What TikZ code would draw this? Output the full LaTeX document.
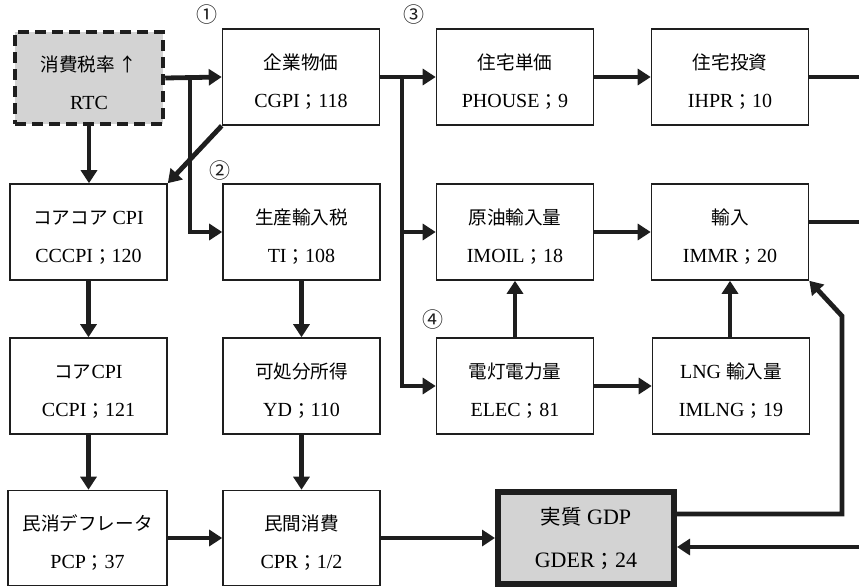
\documentclass[tikz,border=0pt]{standalone}
\usepackage{fontspec}
\setmainfont{Liberation Serif}
\newfontfamily\jp[Scale=0.93]{Noto Sans CJK JP}
\newfontfamily\jptag{Noto Sans CJK JP}
\usetikzlibrary{arrows.meta}
\definecolor{ink}{HTML}{1E1E1E}
\definecolor{shade}{HTML}{D3D3D3}
% tall strut that pushes each two-line label slightly down in its box
\newcommand\topstrut{\rule{0pt}{25pt}}
\tikzset{
  box/.style={draw=ink, line width=1.6pt, fill=white, minimum width=157pt,
    minimum height=96pt, align=center, inner sep=0pt,
    font=\fontsize{20}{38}\selectfont},
  keybox/.style={box, fill=shade, line width=4.5pt, dash pattern=on 11pt off 6pt,
    minimum width=148pt, minimum height=92pt},
  gdpbox/.style={box, fill=shade, line width=6pt, minimum width=176pt,
    minimum height=92pt, font=\fontsize{22}{43}\selectfont},
  arr/.style={draw=ink, line width=4.8pt, -{Triangle[length=13pt,width=16pt]}},
  ln/.style={draw=ink, line width=4.8pt},
  tag/.style={font=\jptag\fontsize{21}{21}\selectfont, text=ink, inner sep=0pt}
}
\begin{document}
\begin{tikzpicture}[x=1pt,y=-1pt]
\useasboundingbox (0,0) rectangle (859,587);

% row 1
\node[keybox] (rtc) at (89,78) {\topstrut{\jp 消費税率 ↑}\\RTC};
\node[box] (cgpi) at (301,77) {\topstrut{\jp 企業物価}\\CGPI{\jp ；}118};
\node[box] (phouse) at (515,77) {\topstrut{\jp 住宅単価}\\PHOUSE{\jp ；}9};
\node[box] (ihpr) at (730,77) {\topstrut{\jp 住宅投資}\\IHPR{\jp ；}10};
% row 2
\node[box] (cccpi) at (88.5,232) {\topstrut{\jp コアコア} CPI\\CCCPI{\jp ；}120};
\node[box] (ti) at (301.5,232) {\topstrut{\jp 生産輸入税}\\TI{\jp ；}108};
\node[box] (imoil) at (515,232) {\topstrut{\jp 原油輸入量}\\IMOIL{\jp ；}18};
\node[box] (immr) at (730,232) {\topstrut{\jp 輸入}\\IMMR{\jp ；}20};
% row 3
\node[box] (ccpi) at (88.5,386) {\topstrut{\jp コア}CPI\\CCPI{\jp ；}121};
\node[box] (yd) at (301.5,386) {\topstrut{\jp 可処分所得}\\YD{\jp ；}110};
\node[box] (elec) at (515,386) {\topstrut{\jp 電灯電力量}\\ELEC{\jp ；}81};
\node[box] (imlng) at (731,386) {\topstrut LNG {\jp 輸入量}\\IMLNG{\jp ；}19};
% row 4
\node[box, minimum width=159pt, minimum height=95pt] (pcp) at (87.5,538) {\topstrut{\jp 民消デフレータ}\\PCP{\jp ；}37};
\node[box, minimum height=95pt] (cpr) at (301.5,538) {\topstrut{\jp 民間消費}\\CPR{\jp ；}1/2};
\node[gdpbox] (gder) at (586,538) {{\jp 実質} GDP\\GDER{\jp ；}24};

% circled markers
\node[tag] (m1) at (207,15) {①};
\node[tag] (m2) at (220,171) {②};
\node[tag] (m3) at (414,15) {③};
\node[tag] (m4) at (433,320) {④};

% junctions and free ends
\coordinate (j1) at (190,77);
\coordinate (j2) at (402,77);
\coordinate (outA) at (859,77);
\coordinate (outB) at (859,222);
\coordinate (bend) at (842,316);
\coordinate (inC) at (859,547);

% connectors
\draw[arr] (rtc.east) -- (cgpi.west);
\draw[arr] (j1) |- (ti.west);
\draw[arr] (rtc.south) -- (rtc.south |- cccpi.north);
\draw[arr] (cgpi.south west) -- (cccpi.north east);
\draw[arr] (cgpi.east) -- (phouse.west);
\draw[arr] (j2) |- (imoil.west);
\draw[arr] (j2) |- (elec.west);
\draw[arr] (phouse.east) -- (ihpr.west);
\draw[ln] (ihpr.east) -- (outA);
\draw[arr] (imoil.east) -- (imoil.east -| immr.west);
\draw[ln] (immr.east |- outB) -- (outB);
\draw[arr] (elec.north) -- (imoil.south);
\draw[arr] (elec.east) -- (imlng.west);
\draw[arr] (imlng.north -| immr.south) -- (immr.south);
\draw[arr] (cccpi.south) -- (ccpi.north);
\draw[arr] (ti.south) -- (yd.north);
\draw[arr] (ccpi.south) -- (ccpi.south |- pcp.north);
\draw[arr] (yd.south) -- (cpr.north);
\draw[arr] (pcp.east) -- (cpr.west);
\draw[arr] (cpr.east) -- (gder.west);
\draw[arr] ([yshift=24pt]gder.east) -| (bend) -- (immr.south east);
\draw[arr] (inC) -- (gder.east |- inC);
\end{tikzpicture}
\end{document}
